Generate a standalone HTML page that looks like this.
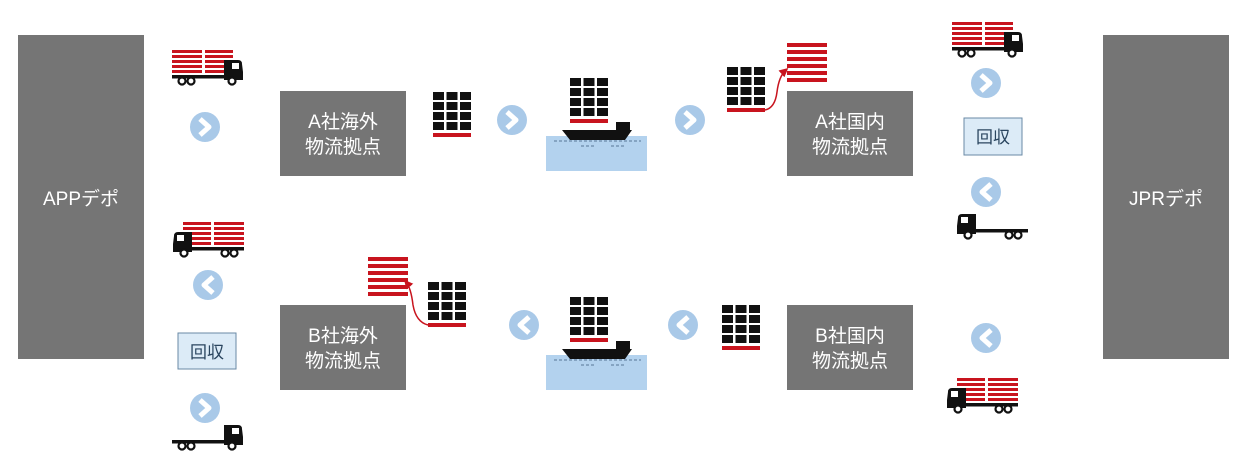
<!DOCTYPE html>
<html><head><meta charset="utf-8"><style>
html,body{margin:0;padding:0;background:#fff;}
svg{display:block;}
text{font-family:"Liberation Sans","Noto Sans CJK JP",sans-serif;}
</style></head><body>
<svg width="1240" height="469" viewBox="0 0 1240 469" xmlns="http://www.w3.org/2000/svg">
<defs>
  <g id="redstack">
    <rect x="0" y="0" width="40" height="4" fill="#c8141e"/>
    <rect x="0" y="7" width="40" height="4" fill="#c8141e"/>
    <rect x="0" y="14" width="40" height="4" fill="#c8141e"/>
    <rect x="0" y="21" width="40" height="4" fill="#c8141e"/>
    <rect x="0" y="28" width="40" height="4" fill="#c8141e"/>
    <rect x="0" y="35" width="40" height="4" fill="#c8141e"/>
  </g>
  <g id="grid">
    <g fill="#111">
      <rect x="0" y="0" width="11" height="8"/><rect x="13.5" y="0" width="11" height="8"/><rect x="27" y="0" width="11" height="8"/>
      <rect x="0" y="10" width="11" height="8"/><rect x="13.5" y="10" width="11" height="8"/><rect x="27" y="10" width="11" height="8"/>
      <rect x="0" y="20" width="11" height="8"/><rect x="13.5" y="20" width="11" height="8"/><rect x="27" y="20" width="11" height="8"/>
      <rect x="0" y="30" width="11" height="8"/><rect x="13.5" y="30" width="11" height="8"/><rect x="27" y="30" width="11" height="8"/>
    </g>
    <rect x="0" y="41" width="38" height="4" fill="#c8141e"/>
  </g>
  <g id="truckbase">
    <rect x="0" y="25" width="62" height="3.5" fill="#111"/>
    <path d="M52 10 L66 10 Q70 10 70 14 L71 22 L71 30 L52 30 Z" fill="#111"/>
    <rect x="60" y="13" width="7" height="6" fill="#fff"/>
    <g fill="#fff" stroke="#111" stroke-width="2.2">
      <circle cx="10" cy="31" r="3.5"/><circle cx="19" cy="31" r="3.5"/><circle cx="60" cy="31" r="3.5"/>
    </g>
  </g>
  <g id="truckfull">
    <g fill="#c8141e">
      <rect x="0" y="0" width="30" height="3"/><rect x="0" y="5" width="30" height="3"/><rect x="0" y="10" width="30" height="3"/><rect x="0" y="15" width="30" height="3"/><rect x="0" y="20" width="30" height="3"/>
      <rect x="33" y="0" width="28" height="3"/><rect x="33" y="5" width="28" height="3"/><rect x="33" y="10" width="28" height="3"/><rect x="33" y="15" width="28" height="3"/><rect x="33" y="20" width="28" height="3"/>
    </g>
    <use href="#truckbase"/>
  </g>
  <g id="circR">
    <circle cx="0" cy="0" r="15" fill="#a9c9e8"/>
    <path d="M-5 -8 L4 0 L-5 8" fill="none" stroke="#fff" stroke-width="5" stroke-linejoin="round"/>
  </g>
  <g id="circL">
    <circle cx="0" cy="0" r="15" fill="#a9c9e8"/>
    <path d="M5 -8 L-4 0 L5 8" fill="none" stroke="#fff" stroke-width="5" stroke-linejoin="round"/>
  </g>
  <g id="ship">
    <rect x="0" y="58" width="101" height="35" fill="#b3d2ee"/>
    <line x1="8" y1="63" x2="95" y2="63" stroke="#3a5a7a" stroke-width="0.8" stroke-dasharray="3,2"/>
    <line x1="35" y1="68" x2="48" y2="68" stroke="#3a5a7a" stroke-width="0.8" stroke-dasharray="3,2"/>
    <line x1="65" y1="68" x2="80" y2="68" stroke="#3a5a7a" stroke-width="0.8" stroke-dasharray="3,2"/>
    <path d="M16 52 L86 52 L79 62 L24 62 Z" fill="#111"/>
    <rect x="70" y="44" width="14" height="9" fill="#111"/>
    <g transform="translate(24,0)"><use href="#grid"/></g>
  </g>
  <marker id="ah" markerWidth="6" markerHeight="6" refX="4" refY="3" orient="auto"><path d="M0 0 L6 3 L0 6 Z" fill="#c8141e"/></marker>
</defs>

<!-- depots -->
<rect x="18" y="35" width="126" height="324" fill="#757575"/>
<text x="81" y="205" font-size="19" fill="#fff" text-anchor="middle">APPデポ</text>
<rect x="1103" y="35" width="126" height="324" fill="#757575"/>
<text x="1166" y="205" font-size="19" fill="#fff" text-anchor="middle">JPRデポ</text>

<!-- hubs -->
<g font-size="19" fill="#fff" text-anchor="middle">
<rect x="280" y="91" width="126" height="85" fill="#757575"/>
<text x="343" y="128">A社海外</text><text x="343" y="153">物流拠点</text>
<rect x="787" y="91" width="126" height="85" fill="#757575"/>
<text x="850" y="128">A社国内</text><text x="850" y="153">物流拠点</text>
<rect x="280" y="305" width="126" height="85" fill="#757575"/>
<text x="343" y="342">B社海外</text><text x="343" y="367">物流拠点</text>
<rect x="787" y="305" width="126" height="85" fill="#757575"/>
<text x="850" y="342">B社国内</text><text x="850" y="367">物流拠点</text>
</g>

<!-- 回収 -->
<rect x="964" y="118" width="58" height="37" fill="#dcebf7" stroke="#6a8aa5" stroke-width="1"/>
<text x="993" y="143" font-size="17" fill="#2b4660" text-anchor="middle">回収</text>
<rect x="178" y="333" width="58" height="36" fill="#dcebf7" stroke="#6a8aa5" stroke-width="1"/>
<text x="207" y="358" font-size="17" fill="#2b4660" text-anchor="middle">回収</text>

<!-- circles -->
<use href="#circR" x="205" y="127"/>
<use href="#circR" x="512" y="120"/>
<use href="#circR" x="690" y="120"/>
<use href="#circR" x="986" y="83"/>
<use href="#circL" x="986" y="192"/>
<use href="#circL" x="208" y="285"/>
<use href="#circR" x="205" y="408"/>
<use href="#circL" x="524" y="325"/>
<use href="#circL" x="683" y="325"/>
<use href="#circL" x="986" y="338"/>

<!-- trucks -->
<use href="#truckfull" x="172" y="50"/>
<use href="#truckfull" x="952" y="22"/>
<g transform="translate(244,222) scale(-1,1)"><use href="#truckfull"/></g>
<g transform="translate(1018,378) scale(-1,1)"><use href="#truckfull"/></g>
<g transform="translate(1028,204) scale(-1,1)"><use href="#truckbase"/></g>
<use href="#truckbase" x="172" y="415"/>

<!-- pallets -->
<use href="#grid" x="433" y="92"/>
<use href="#grid" x="727" y="67"/>
<use href="#grid" x="428" y="282"/>
<use href="#grid" x="722" y="305"/>
<use href="#redstack" x="787" y="43"/>
<use href="#redstack" x="368" y="257"/>
<path d="M765 110 Q775 108 777 92 Q779 76 786 70" fill="none" stroke="#c8141e" stroke-width="1.5" marker-end="url(#ah)"/>
<path d="M428 325 Q416 322 413 305 Q411 288 406 282" fill="none" stroke="#c8141e" stroke-width="1.5" marker-end="url(#ah)"/>

<!-- ships -->
<use href="#ship" x="546" y="78"/>
<use href="#ship" x="546" y="297"/>
</svg>
</body></html>
